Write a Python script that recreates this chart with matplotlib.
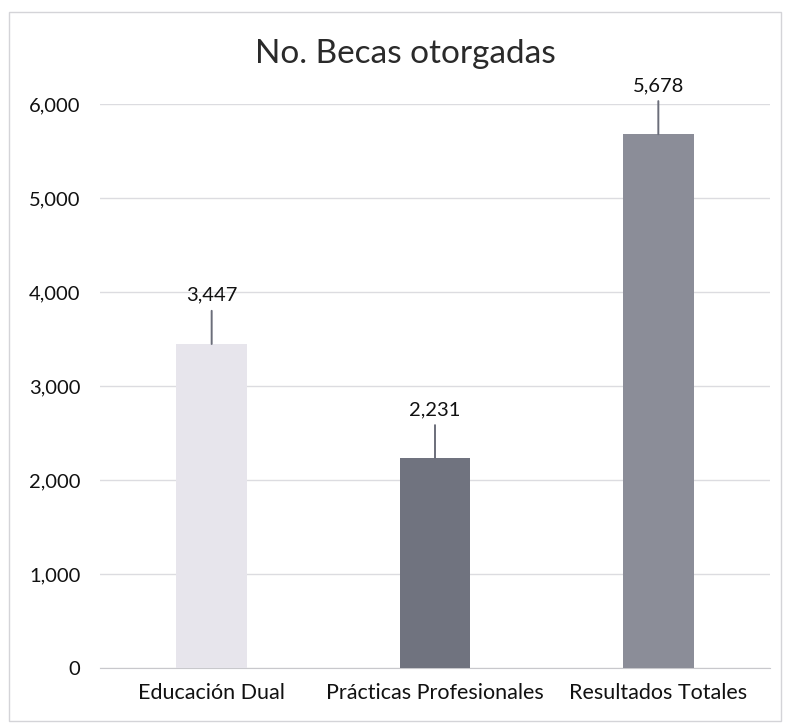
import matplotlib.pyplot as plt
from matplotlib.patches import Rectangle
from matplotlib.ticker import FuncFormatter

# data
categorias = ['Educación Dual', 'Prácticas Profesionales', 'Resultados Totales']
becas = [3447, 2231, 5678]
colores = ['#e7e5ec', '#70737f', '#8b8d98']
y_ticks = [0, 1000, 2000, 3000, 4000, 5000, 6000]

plt.rcParams['font.family'] = ['Lato', 'DejaVu Sans']

fig = plt.figure(figsize=(7.86, 7.27), dpi=100)
ax = fig.add_axes([100 / 786, 59 / 727, 670 / 786, 564 / 727])

x = range(len(categorias))
ax.bar(x, becas, width=0.315, color=colores, zorder=3)

for xi, v in zip(x, becas):
    ax.annotate(f'{v:,}', xy=(xi, v), xytext=(0, 35), textcoords='offset points',
                ha='center', va='center', fontsize=14.5, color='#111111',
                arrowprops=dict(arrowstyle='-', color='#6b6e7a', lw=1.4,
                                shrinkA=3, shrinkB=0), zorder=4)

ax.set_xlim(-0.5, 2.5)
ax.set_ylim(0, 6000)
ax.set_yticks(y_ticks)
ax.yaxis.set_major_formatter(FuncFormatter(lambda v, p: f'{int(v):,}'))
ax.set_xticks(list(x))
ax.set_xticklabels(categorias)
ax.grid(axis='y', color='#dcdce0', lw=1, zorder=0)
ax.tick_params(axis='y', length=0, pad=14, labelsize=14.5, labelcolor='#111111')
ax.tick_params(axis='x', length=0, pad=11, labelsize=15.5, labelcolor='#111111')
for s in ['top', 'right', 'left']:
    ax.spines[s].set_visible(False)
ax.spines['bottom'].set_color('#c8c8cc')

fig.text(405 / 786, 1 - 54 / 727, 'No. Becas otorgadas', ha='center', va='center',
         fontsize=24, color='#2a2a2a')

fig.patches.append(Rectangle((9 / 786, 6 / 727), 772 / 786, 709 / 727,
                             transform=fig.transFigure, fill=False,
                             edgecolor='#d4d4d8', lw=1))

fig.savefig('out.png', dpi=100)
